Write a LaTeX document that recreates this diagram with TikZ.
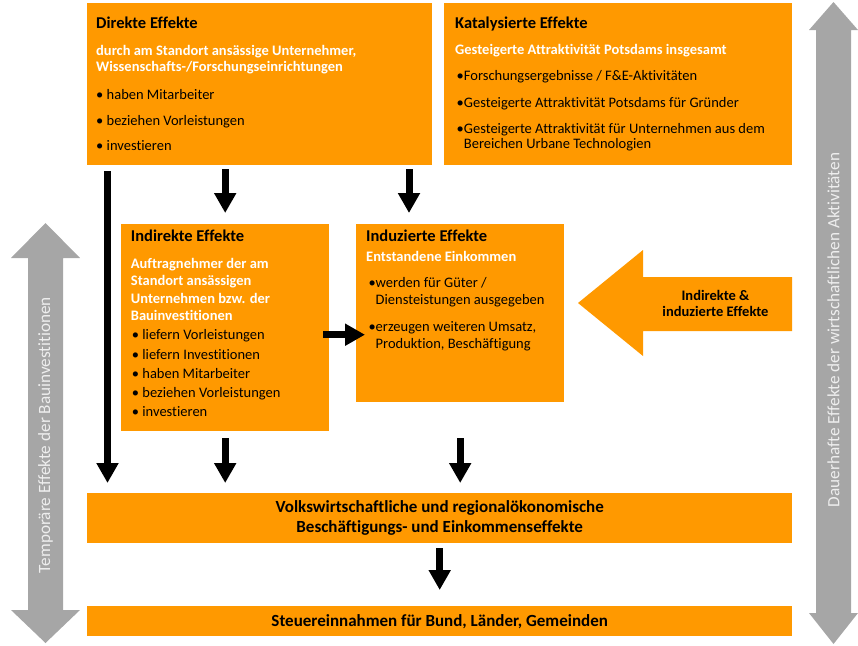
\documentclass[tikz,border=0pt]{standalone}
\usepackage{fontspec}
\setmainfont{Carlito}[Ligatures=NoCommon]
\usetikzlibrary{arrows.meta}
\definecolor{orng}{RGB}{255,153,0}
\definecolor{grau}{RGB}{166,166,166}
\definecolor{hell}{RGB}{238,238,238}

\begin{document}
\begin{tikzpicture}[x=1pt,y=-1pt]
    \tikzset{
        box/.style={fill=orng, anchor=north west, inner sep=0pt},
        ttl/.style={anchor=base west, inner sep=0pt, font=\fontsize{16.5}{20}\selectfont\bfseries},
        sub/.style={anchor=base west, inner sep=0pt, align=left, text=white, font=\fontsize{14.5}{#1}\selectfont\bfseries},
        sub/.default=16.5,
        lst/.style={anchor=base west, inner sep=0pt, align=left, font=\fontsize{14.5}{#1}\selectfont},
        lst/.default=19.2,
        mid/.style={align=center, inner sep=0pt, font=\fontsize{17}{20}\selectfont\bfseries},
        seite/.style={rotate=90, inner sep=0pt, text=hell, font=\fontsize{17.2}{20}\selectfont},
        blk/.style={line width=7pt, -{Triangle[width=21pt,length=20pt]}}
    }
    \useasboundingbox (0,0) rectangle (858,645);

    % seitliche Pfeile
    \fill[grau] (45.5,223) -- (80,258) -- (63,258) -- (63,610) -- (80,610) -- (45.5,643)
        -- (11,610) -- (28,610) -- (28,258) -- (11,258) -- cycle;
    \fill[grau] (833.5,2) -- (858,30) -- (851,30) -- (851,613) -- (858,613) -- (833.5,644)
        -- (809,613) -- (816,613) -- (816,30) -- (809,30) -- cycle;
    \draw node[seite] (temp) at (45.5,435) {Temporäre Effekte der Bauinvestitionen};
    \draw node[seite] (dauer) at (833.5,330) {Dauerhafte Effekte der wirtschaftlichen Aktivitäten};

    % Kaesten
    \draw node[box, minimum width=345, minimum height=162] (direkt) at (87,3) {};
    \draw node[box, minimum width=348, minimum height=162] (katal) at (444,3) {};
    \draw node[box, minimum width=208, minimum height=207] (indirekt) at (121,224) {};
    \draw node[box, minimum width=208, minimum height=178] (induz) at (356,224) {};
    \draw node[box, minimum width=705, minimum height=50] (volks) at (87,493) {};
    \draw node[box, minimum width=705, minimum height=30] (steuer) at (87,606) {};

    % Pfeil rechts
    \fill[orng] (578,303) -- (643,250) -- (643,277) -- (792,277) -- (792,331)
        -- (643,331) -- (643,356) -- cycle;
    \draw node[align=center, inner sep=0pt, font=\fontsize{14.5}{16}\selectfont\bfseries]
        (beide) at (715.5,303) {Indirekte \&\\induzierte Effekte};

    % Texte (Grundlinie der letzten Zeile)
    \draw node[ttl] (direkt-t) at (96,28.3) {Direkte Effekte};
    \draw node[sub=16] (direkt-s) at (96,71.7) {durch am Standort ansässige Unternehmer,\\Wissenschafts-/Forschungseinrichtungen};
    \draw node[lst=25.7] (direkt-l) at (96,150.7) {\textbullet\ haben Mitarbeiter\\\textbullet\ beziehen Vorleistungen\\\textbullet\ investieren};

    \draw node[ttl] (katal-t) at (455,28) {Katalysierte Effekte};
    \draw node[sub] (katal-s) at (455,54) {Gesteigerte Attraktivität Potsdams insgesamt};
    \draw node[lst=15] (katal-l) at (456.5,148.3) {\textbullet Forschungsergebnisse / F\&E-Aktivitäten\\[11.6pt]
        \textbullet Gesteigerte Attraktivität Potsdams für Gründer\\[11pt]
        \textbullet Gesteigerte Attraktivität für Unternehmen aus dem\\
        \hphantom{\textbullet}Bereichen Urbane Technologien};

    \draw node[ttl] (indirekt-t) at (130.7,241.7) {Indirekte Effekte};
    \draw node[sub=17.4] (indirekt-s) at (130.7,320.7) {Auftragnehmer der am\\Standort ansässigen\\Unternehmen bzw. der\\Bauinvestitionen};
    \draw node[lst] (indirekt-l) at (131.7,416.7) {\textbullet\ liefern Vorleistungen\\\textbullet\ liefern Investitionen\\\textbullet\ haben Mitarbeiter\\\textbullet\ beziehen Vorleistungen\\\textbullet\ investieren};

    \draw node[ttl] (induz-t) at (366,241.7) {Induzierte Effekte};
    \draw node[sub] (induz-s) at (366,261.7) {Entstandene Einkommen};
    \draw node[lst=17] (induz-l) at (368.3,348.3) {\textbullet werden für Güter /\\
        \hphantom{\textbullet}Diensteistungen ausgegeben\\[9.7pt]
        \textbullet erzeugen weiteren Umsatz,\\
        \hphantom{\textbullet}Produktion, Beschäftigung};

    \draw node[mid] (volks-t) at (volks.center) {Volkswirtschaftliche und regionalökonomische\\Beschäftigungs- und Einkommenseffekte};
    \draw node[mid] (steuer-t) at (steuer.center) {Steuereinnahmen für Bund, Länder, Gemeinden};

    % Pfeile
    \coordinate (quer) at ([xshift=-6.3pt,yshift=-7pt]indirekt.east);
    \draw[blk] ([xshift=20.5pt,yshift=-6pt]direkt.south west) -- ([xshift=20.5pt,yshift=10pt]volks.north west);
    \draw[blk] ([yshift=-4pt]indirekt.north |- direkt.south) -- ([yshift=11pt]indirekt.north);
    \draw[blk] ([xshift=53pt,yshift=-4pt]induz.north west |- direkt.south) -- ([xshift=53pt,yshift=11pt]induz.north west);
    \draw[blk] ([yshift=-7pt]indirekt.south) -- ([yshift=10pt]indirekt.south |- volks.north);
    \draw[blk] ([yshift=-36pt]induz.south) -- ([yshift=10pt]induz.south |- volks.north);
    \draw[blk] (quer) -- ([xshift=9pt]induz.west |- quer);
    \draw[blk] ([yshift=-5pt]volks.south) -- ([yshift=16pt]steuer.north);
\end{tikzpicture}
\end{document}
